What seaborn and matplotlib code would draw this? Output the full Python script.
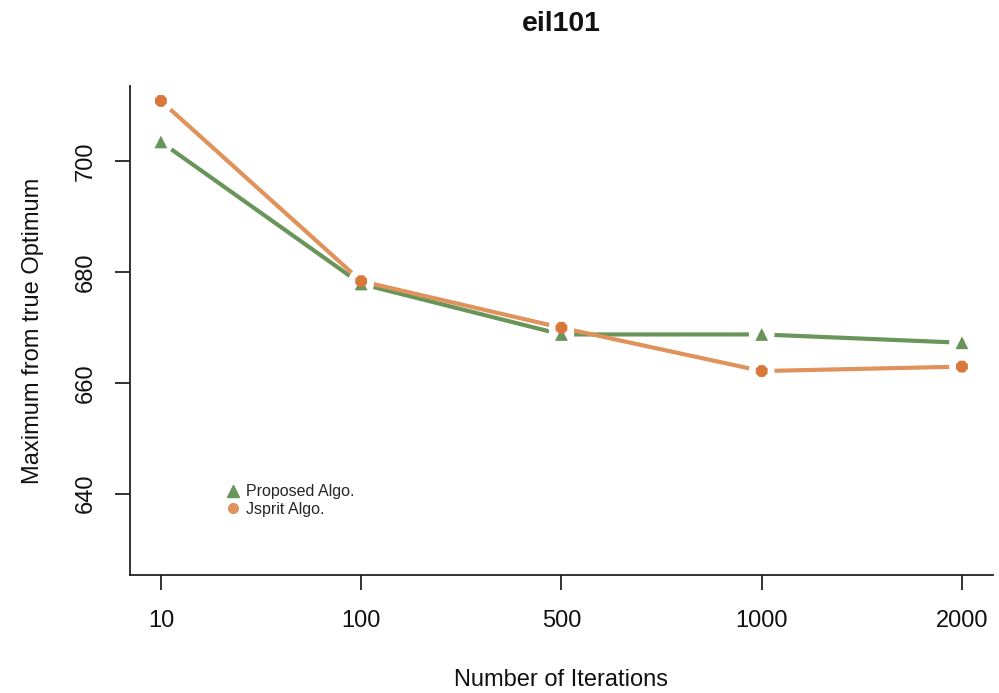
import numpy as np
import pandas as pd
import seaborn as sns
import matplotlib
matplotlib.use('Agg')
from matplotlib import pyplot as plt
from matplotlib.lines import Line2D

# Data
iterations = ['10', '100', '500', '1000', '2000']
proposed = [703.4, 677.8, 668.7, 668.7, 667.2]
jsprit = [710.8, 678.3, 669.9, 662.1, 662.9]

green = '#6a955a'
orange = '#e0925c'
orange_dark = '#d9783a'

sns.set_theme(style='ticks')
plt.rcParams['font.family'] = ['Liberation Sans', 'DejaVu Sans']

df = pd.DataFrame({
    'pos': np.arange(len(iterations)),
    'Proposed': proposed,
    'Jsprit': jsprit,
})

fig = plt.figure(figsize=(9.99, 6.93), dpi=100)
ax = fig.add_axes([0.130, 0.170, 0.864, 0.706])

# R type="b": lines with gaps around the points
sns.lineplot(data=df, x='pos', y='Proposed', color=green, lw=3, ax=ax, zorder=2)
sns.lineplot(data=df, x='pos', y='Jsprit', color=orange, lw=3, ax=ax, zorder=2)
for col in ['Proposed', 'Jsprit']:
    sns.scatterplot(data=df, x='pos', y=col, color='white', s=340, marker='o',
                    edgecolor='none', ax=ax, zorder=3)
sns.scatterplot(data=df, x='pos', y='Proposed', color=green, marker='^', s=85,
                edgecolor='none', ax=ax, zorder=4)
sns.scatterplot(data=df, x='pos', y='Jsprit', color=orange_dark, marker='8', s=85,
                edgecolor='none', ax=ax, zorder=4)

ax.set_xlim(-0.155, 4.155)
ax.set_ylim(625.3, 713.5)
ax.set_xticks(df['pos'])
ax.set_xticklabels(iterations)
ax.set_yticks([640, 660, 680, 700])
ax.tick_params(axis='both', length=11, width=1.3, color='#222222', labelsize=17,
               labelcolor='#111111', pad=14)
ax.tick_params(axis='y', labelrotation=90, pad=13)
for lab in ax.get_yticklabels():
    lab.set_va('center')

for side in ['top', 'right']:
    ax.spines[side].set_visible(False)
for side in ['left', 'bottom']:
    ax.spines[side].set_linewidth(1.3)
    ax.spines[side].set_color('#222222')

ax.set_xlabel('Number of Iterations', fontsize=17, labelpad=27, color='#111111')
ax.set_ylabel('Maximum from true Optimum', fontsize=17, labelpad=22, color='#111111')
fig.text(561 / 999, 1 - 24 / 693, 'eil101', ha='center', va='center', fontsize=20.5,
         fontweight='bold', color='#111111')

handles = [
    Line2D([], [], color=green, marker='^', ls='none', markersize=8),
    Line2D([], [], color=orange, marker='o', ls='none', markersize=7),
]
ax.legend(handles, ['Proposed Algo.', 'Jsprit Algo.'], loc='upper left',
          bbox_to_anchor=(219 / 999, 1 - 478 / 693), bbox_transform=fig.transFigure,
          frameon=False, fontsize=11.5, handletextpad=0.3, labelspacing=0.15,
          borderaxespad=0, handlelength=1)

fig.savefig('out.png', dpi=100, facecolor='white')
